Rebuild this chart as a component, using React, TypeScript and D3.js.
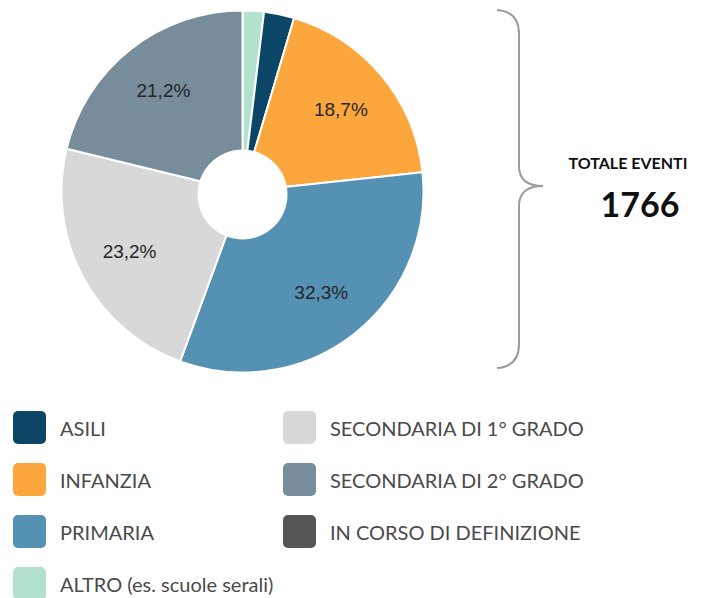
import React from "react";
import * as d3 from "d3";

// Pie slices, clockwise from 12 o'clock
const sliceNames = [
  "ALTRO (es. scuole serali)",
  "ASILI",
  "INFANZIA",
  "PRIMARIA",
  "SECONDARIA DI 1° GRADO",
  "SECONDARIA DI 2° GRADO",
  "IN CORSO DI DEFINIZIONE",
];
const sliceValues = [1.9, 2.7, 18.7, 32.3, 23.2, 21.2, 0];
const sliceColors = ["#b2e2cd", "#0c4666", "#fba73e", "#5591b3", "#d8d8d8", "#778d9b", "#555555"];

// Legend layout (column-major as in the reference)
const legendCol1 = ["ASILI", "INFANZIA", "PRIMARIA", "ALTRO (es. scuole serali)"];
const legendCol2 = ["SECONDARIA DI 1° GRADO", "SECONDARIA DI 2° GRADO", "IN CORSO DI DEFINIZIONE"];

const totalLabel = "TOTALE EVENTI";
const totalValue = 1766;

export default function App() {
  const W = 715;
  const H = 598;
  const cx = 242.5;
  const cy = 191.5;
  const R = 181;
  const holeR = 45;

  const data = sliceNames.map((n, i) => ({ name: n, value: sliceValues[i], color: sliceColors[i] }));
  const pie = d3
    .pie<any>()
    .sort(null)
    .value((d: any) => d.value)
    .startAngle(0)
    .endAngle(2 * Math.PI);
  const arcs = pie(data).filter((a) => a.data.value > 0);
  const arc = d3.arc<any>().innerRadius(0).outerRadius(R);
  const labelArc = d3.arc<any>().innerRadius(128).outerRadius(128);
  const fmt = (v: number) => v.toFixed(1).replace(".", ",") + "%";

  const colorOf = (n: string) => sliceColors[sliceNames.indexOf(n)];

  const bx = 519;
  const bracePath = `M497,10 C511,11 ${bx},19 ${bx},34 L${bx},166 C${bx},179 527,186 543,186 C527,186 ${bx},193 ${bx},206 L${bx},344 C${bx},359 511,367 497,368`;

  const legendRow = (names: string[], x: number) =>
    names.map((n, i) => {
      const y = 411 + i * 52;
      return (
        <g key={n}>
          <rect x={x} y={y} width={33} height={33} rx={5} ry={5} fill={colorOf(n)} />
          <text
            x={x + 47}
            y={y + 16.5}
            dominantBaseline="central"
            fontFamily="Lato, 'Open Sans', sans-serif"
            fontSize={20}
            fill="#4a4a4a"
          >
            {n}
          </text>
        </g>
      );
    });

  return (
    <svg
      width={W}
      height={H}
      viewBox={`0 0 ${W} ${H}`}
      style={{ position: "absolute", left: 0, top: 0, background: "#fff" }}
    >
      <rect x={0} y={0} width={W} height={H} fill="#fff" />
      <g transform={`translate(${cx},${cy})`}>
        {arcs.map((a) => (
          <path key={a.data.name} d={arc(a) as string} fill={a.data.color} stroke="#fff" strokeWidth={2} strokeLinejoin="round" />
        ))}
        <circle cx={0} cy={3} r={holeR} fill="#fff" />
        {arcs
          .filter((a) => a.data.value > 10)
          .map((a) => {
            const [lx, ly] = labelArc.centroid(a);
            return (
              <text
                key={"l" + a.data.name}
                x={lx}
                y={ly}
                textAnchor="middle"
                dominantBaseline="central"
                fontFamily="'Liberation Sans', Arial, sans-serif"
                fontSize={19}
                fill="#262626"
              >
                {fmt(a.data.value)}
              </text>
            );
          })}
      </g>

      <path d={bracePath} fill="none" stroke="#9b9b9b" strokeWidth={2} />

      <text
        x={628}
        y={169}
        textAnchor="middle"
        fontFamily="Lato, sans-serif"
        fontWeight={700}
        fontSize={16}
        fill="#111"
      >
        {totalLabel}
      </text>
      <text
        x={640}
        y={217}
        textAnchor="middle"
        fontFamily="Lato, sans-serif"
        fontWeight={700}
        fontSize={34}
        fill="#111"
      >
        {totalValue}
      </text>

      {legendRow(legendCol1, 13)}
      {legendRow(legendCol2, 283)}
    </svg>
  );
}
